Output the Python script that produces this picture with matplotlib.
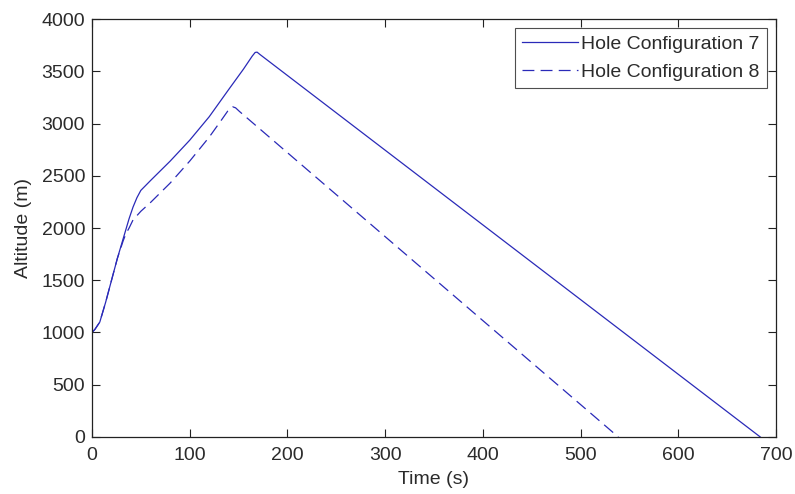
import matplotlib
matplotlib.use("Agg")
import matplotlib.pyplot as plt

# Altitude profiles for the two hole configurations
time_config7 = [0, 3, 8, 14, 20, 26, 32, 38, 42, 46, 50, 60, 80, 100, 120,
                139.5, 155, 164, 167, 169, 172, 684]
alt_config7 = [1000, 1030, 1100, 1290, 1500, 1710, 1900, 2090, 2200, 2290,
               2360, 2455, 2640, 2840, 3065, 3320, 3520, 3645, 3680, 3683,
               3660, 0]

time_config8 = [0, 3, 8, 14, 20, 26, 32, 35, 38, 42, 50, 60, 80, 100, 120,
                133, 139, 142, 144, 147, 151, 538.7]
alt_config8 = [1000, 1030, 1100, 1290, 1500, 1710, 1880, 1950, 2000, 2077,
               2160, 2245, 2430, 2640, 2870, 3040, 3120, 3150, 3160, 3150,
               3115, 0]

legend_labels = ["Hole Configuration 7", "Hole Configuration 8"]
x_ticks = [0, 100, 200, 300, 400, 500, 600, 700]
y_ticks = [0, 500, 1000, 1500, 2000, 2500, 3000, 3500, 4000]

plt.rcParams["font.family"] = ["Liberation Sans", "DejaVu Sans"]
font_size = 14
text_color = "#2b2b2b"

line_color = "#2a2ab8"
dash_style = (0, (9.5, 5))

fig = plt.figure(figsize=(7.95, 4.94), dpi=100)
ax = fig.add_axes([0.1157, 0.1154, 0.976 - 0.1157, 0.9615 - 0.1154])

ax.plot(time_config7, alt_config7, color=line_color, linewidth=0.9,
        linestyle="-", label=legend_labels[0])
ax.plot(time_config8, alt_config8, color=line_color, linewidth=0.9,
        linestyle=dash_style, label=legend_labels[1])

ax.set_xlim(0, 700)
ax.set_ylim(0, 4000)
ax.set_xticks(x_ticks)
ax.set_yticks(y_ticks)
ax.tick_params(direction="in", length=5.5, width=0.8, top=True, right=True,
               labelsize=font_size, colors="#222222", labelcolor=text_color)
ax.tick_params(axis="x", pad=7)
ax.tick_params(axis="y", pad=5)
for spine in ax.spines.values():
    spine.set_linewidth(0.9)
    spine.set_color("#222222")

ax.set_xlabel("Time (s)", fontsize=font_size, labelpad=5, color=text_color)
ax.set_ylabel("Altitude (m)", fontsize=font_size, labelpad=7, color=text_color)

leg = ax.legend(loc="upper right", fontsize=font_size, frameon=True,
                fancybox=False, handlelength=2.9, handletextpad=0.15,
                borderpad=0.38, labelspacing=0.55, borderaxespad=0.45,
                labelcolor=text_color)
leg.get_frame().set_edgecolor("#222222")
leg.get_frame().set_linewidth(0.8)

fig.savefig("out.png", dpi=100)
